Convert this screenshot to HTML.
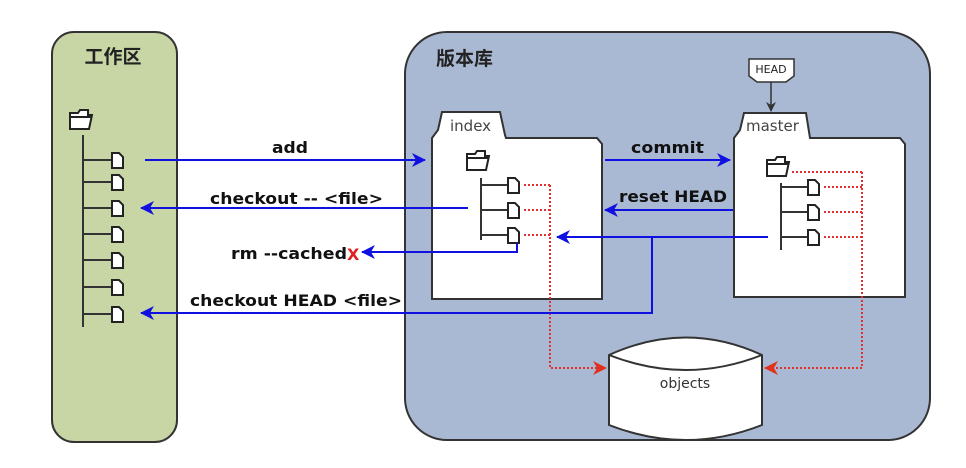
<!DOCTYPE html>
<html><head><meta charset="utf-8"><style>
body{margin:0;background:#fff;width:966px;height:463px;overflow:hidden}
text{font-family:"DejaVu Sans","Noto Sans CJK SC",sans-serif}
</style></head><body>
<svg width="966" height="463" viewBox="0 0 966 463" xmlns="http://www.w3.org/2000/svg">
<defs>
<marker id="b" markerWidth="14" markerHeight="14" refX="13" refY="7" orient="auto" markerUnits="userSpaceOnUse"><path d="M0,0 L14,7 L0,14 L4,7Z" fill="#1010e0"/></marker>
<marker id="r" markerWidth="14" markerHeight="14" refX="13" refY="7" orient="auto" markerUnits="userSpaceOnUse"><path d="M0,0 L14,7 L0,14 L4,7Z" fill="#e03020"/></marker>
<marker id="k" markerWidth="10" markerHeight="10" refX="9" refY="5" orient="auto" markerUnits="userSpaceOnUse"><path d="M0,0 L10,5 L0,10 L3,5Z" fill="#333"/></marker>
<g id="f"><path d="M0,0 h7 l4,4 v11 h-11z" fill="#fff" stroke="#222" stroke-width="2"/></g>
<g id="d"><path d="M0,4 h8 l2,-3 h8 v5 h4 l-3,14 h-19z" fill="#fff" stroke="#222" stroke-width="2"/><path d="M0,8 h22" stroke="#222" stroke-width="2"/></g>
</defs>
<rect x="52" y="32" width="125" height="410" rx="22" fill="#c8d5a5" stroke="#333" stroke-width="2"/>
<text x="113" y="63" font-size="19" font-weight="bold" text-anchor="middle" fill="#222">工作区</text>
<rect x="405" y="32" width="525" height="408" rx="42" fill="#aab9d3" stroke="#333" stroke-width="2"/>
<text x="436" y="65" font-size="19" font-weight="bold" fill="#222">版本库</text>
<use href="#d" x="70" y="109"/>
<g stroke="#333" stroke-width="2"><path d="M83,135 V327"/>
<path d="M83,160 H113 M83,182 H113 M83,208 H113 M83,234 H113 M83,260 H113 M83,287 H113 M83,314 H113"/></g>
<use href="#f" x="112" y="153"/><use href="#f" x="112" y="175"/><use href="#f" x="112" y="201"/><use href="#f" x="112" y="227"/><use href="#f" x="112" y="253"/><use href="#f" x="112" y="280"/><use href="#f" x="112" y="307"/>
<path d="M432,299 V138 L438,130 L442,112 H500 L505,135 L506,138 H597 L602,144 V299Z" fill="#fff" stroke="#333" stroke-width="2"/>
<text x="450" y="131" font-size="15" fill="#444">index</text>
<use href="#d" x="467" y="150"/>
<g stroke="#333" stroke-width="2"><path d="M481,178 V240 M481,185 H508 M481,210 H508 M481,235 H508"/></g>
<use href="#f" x="508" y="178"/><use href="#f" x="508" y="203"/><use href="#f" x="508" y="228"/>
<path d="M734,297 V138 L740,130 L744,113 H806 L810,138 H900 L905,144 V297Z" fill="#fff" stroke="#333" stroke-width="2"/>
<text x="746" y="131" font-size="15" fill="#444">master</text>
<use href="#d" x="767" y="156"/>
<g stroke="#333" stroke-width="2"><path d="M781,183 V250 M781,187 H808 M781,212 H808 M781,237 H808"/></g>
<use href="#f" x="808" y="180"/><use href="#f" x="808" y="205"/><use href="#f" x="808" y="230"/>
<path d="M749,59 H794 V76 L786,82 H757 L749,76Z" fill="#fff" stroke="#333" stroke-width="1.5"/>
<text x="771" y="73" font-size="11" text-anchor="middle" fill="#222">HEAD</text>
<path d="M771,82 V111" stroke="#333" stroke-width="1.5" marker-end="url(#k)"/>
<path d="M609,355 Q686,320 762,355 V425 Q686,455 609,425Z" fill="#fff" stroke="#333" stroke-width="2"/>
<path d="M609,355 Q686,385 762,355" fill="none" stroke="#333" stroke-width="2"/>
<text x="685" y="388" font-size="14" text-anchor="middle" fill="#333">objects</text>
<g fill="none" stroke="#e03030" stroke-width="2" stroke-dasharray="2,2">
<path d="M524,185 H550 M524,210 H550 M524,235 H550"/>
<path d="M550,185 V368 H606" marker-end="url(#r)"/>
<path d="M792,172 H862 M824,187 H862 M824,212 H862 M824,237 H862"/>
<path d="M862,172 V368 H765" marker-end="url(#r)"/>
</g>
<g fill="none" stroke="#1010e0" stroke-width="2">
<path d="M145,160 H425" marker-end="url(#b)"/>
<path d="M468,208 H141" marker-end="url(#b)"/>
<path d="M517,243 V252 H362" marker-end="url(#b)"/>
<path d="M768,237 H557" marker-end="url(#b)"/>
<path d="M652,237 V313 H141" marker-end="url(#b)"/>
<path d="M605,160 H730" marker-end="url(#b)"/>
<path d="M733,210 H605" marker-end="url(#b)"/>
</g>
<g font-size="16" font-weight="bold" fill="#111">
<text x="272" y="153" textLength="36" lengthAdjust="spacingAndGlyphs">add</text>
<text x="210" y="204" textLength="173" lengthAdjust="spacingAndGlyphs">checkout -- &lt;file&gt;</text>
<text x="231" y="259" textLength="116" lengthAdjust="spacingAndGlyphs">rm --cached</text>
<text x="347" y="260" fill="#e02020">X</text>
<text x="190" y="306" textLength="212" lengthAdjust="spacingAndGlyphs">checkout HEAD &lt;file&gt;</text>
<text x="631" y="153" textLength="73" lengthAdjust="spacingAndGlyphs">commit</text>
<text x="619" y="202" textLength="108" lengthAdjust="spacingAndGlyphs">reset HEAD</text>
</g>
</svg>
</body></html>
